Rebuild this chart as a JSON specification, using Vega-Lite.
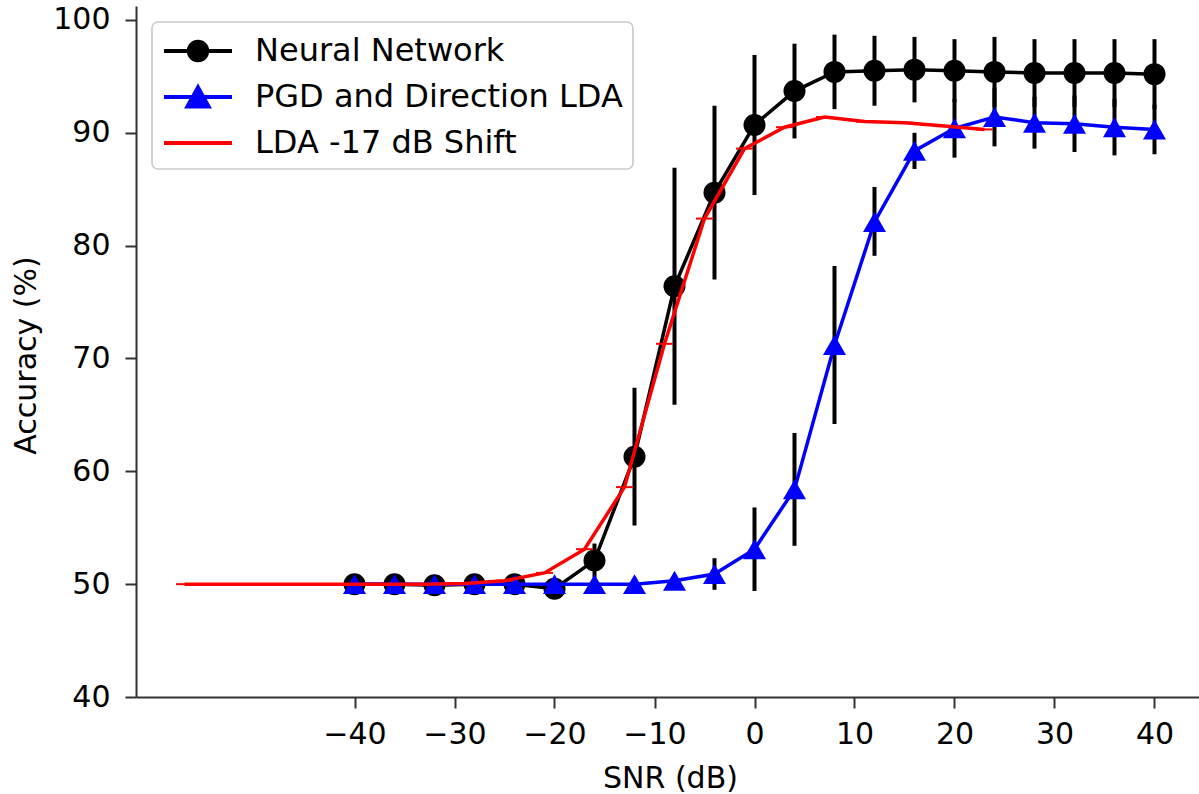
{
  "$schema": "https://vega.github.io/schema/vega-lite/v6.json",
  "width": 1063,
  "height": 691,
  "padding": {"left": 136, "top": 6, "right": 0, "bottom": 97},
  "autosize": {"type": "none"},
  "background": "white",
  "config": {
    "view": {"stroke": null},
    "font": "DejaVu Sans",
    "axis": {
      "labelFont": "DejaVu Sans",
      "titleFont": "DejaVu Sans",
      "labelFontSize": 30,
      "titleFontSize": 30,
      "labelColor": "#000000",
      "titleColor": "#000000",
      "titleFontWeight": "normal",
      "domainColor": "#333333",
      "domainWidth": 2,
      "tickColor": "#333333",
      "tickWidth": 2,
      "tickSize": 11,
      "grid": false
    },
    "legend": {
      "strokeWidth": 1.7
    }
  },
  "datasets": {
    "nn": [
      {"series": "Neural Network", "snr": -40, "acc": 50.0, "low": 49.7, "high": 50.3},
      {"series": "Neural Network", "snr": -36, "acc": 50.0, "low": 49.7, "high": 50.3},
      {"series": "Neural Network", "snr": -32, "acc": 49.9, "low": 49.6, "high": 50.2},
      {"series": "Neural Network", "snr": -28, "acc": 50.0, "low": 49.7, "high": 50.3},
      {"series": "Neural Network", "snr": -24, "acc": 50.0, "low": 49.7, "high": 50.3},
      {"series": "Neural Network", "snr": -20, "acc": 49.6, "low": 49.0, "high": 50.2},
      {"series": "Neural Network", "snr": -16, "acc": 52.1, "low": 50.6, "high": 53.6},
      {"series": "Neural Network", "snr": -12, "acc": 61.3, "low": 55.2, "high": 67.4},
      {"series": "Neural Network", "snr": -8, "acc": 76.4, "low": 65.9, "high": 86.9},
      {"series": "Neural Network", "snr": -4, "acc": 84.7, "low": 77.0, "high": 92.4},
      {"series": "Neural Network", "snr": 0, "acc": 90.7, "low": 84.5, "high": 96.9},
      {"series": "Neural Network", "snr": 4, "acc": 93.7, "low": 89.5, "high": 97.9},
      {"series": "Neural Network", "snr": 8, "acc": 95.4, "low": 92.1, "high": 98.7},
      {"series": "Neural Network", "snr": 12, "acc": 95.5, "low": 92.4, "high": 98.6},
      {"series": "Neural Network", "snr": 16, "acc": 95.6, "low": 92.7, "high": 98.5},
      {"series": "Neural Network", "snr": 20, "acc": 95.5, "low": 92.7, "high": 98.3},
      {"series": "Neural Network", "snr": 24, "acc": 95.4, "low": 92.3, "high": 98.5},
      {"series": "Neural Network", "snr": 28, "acc": 95.3, "low": 92.3, "high": 98.3},
      {"series": "Neural Network", "snr": 32, "acc": 95.3, "low": 92.3, "high": 98.3},
      {"series": "Neural Network", "snr": 36, "acc": 95.3, "low": 92.3, "high": 98.3},
      {"series": "Neural Network", "snr": 40, "acc": 95.2, "low": 92.1, "high": 98.3}
    ],
    "pgd": [
      {"series": "PGD and Direction LDA", "snr": -40, "acc": 50.0, "low": 49.9, "high": 50.1},
      {"series": "PGD and Direction LDA", "snr": -36, "acc": 50.0, "low": 49.9, "high": 50.1},
      {"series": "PGD and Direction LDA", "snr": -32, "acc": 50.0, "low": 49.9, "high": 50.1},
      {"series": "PGD and Direction LDA", "snr": -28, "acc": 50.0, "low": 49.9, "high": 50.1},
      {"series": "PGD and Direction LDA", "snr": -24, "acc": 50.0, "low": 49.9, "high": 50.1},
      {"series": "PGD and Direction LDA", "snr": -20, "acc": 50.0, "low": 49.9, "high": 50.1},
      {"series": "PGD and Direction LDA", "snr": -16, "acc": 50.0, "low": 49.9, "high": 50.1},
      {"series": "PGD and Direction LDA", "snr": -12, "acc": 50.0, "low": 49.9, "high": 50.1},
      {"series": "PGD and Direction LDA", "snr": -8, "acc": 50.3, "low": 49.9, "high": 50.7},
      {"series": "PGD and Direction LDA", "snr": -4, "acc": 50.9, "low": 49.5, "high": 52.3},
      {"series": "PGD and Direction LDA", "snr": 0, "acc": 53.1, "low": 49.4, "high": 56.8},
      {"series": "PGD and Direction LDA", "snr": 4, "acc": 58.4, "low": 53.4, "high": 63.4},
      {"series": "PGD and Direction LDA", "snr": 8, "acc": 71.2, "low": 64.2, "high": 78.2},
      {"series": "PGD and Direction LDA", "snr": 12, "acc": 82.1, "low": 79.1, "high": 85.2},
      {"series": "PGD and Direction LDA", "snr": 16, "acc": 88.4, "low": 86.8, "high": 90.0},
      {"series": "PGD and Direction LDA", "snr": 20, "acc": 90.4, "low": 87.8, "high": 93.0},
      {"series": "PGD and Direction LDA", "snr": 24, "acc": 91.4, "low": 88.8, "high": 94.0},
      {"series": "PGD and Direction LDA", "snr": 28, "acc": 90.9, "low": 88.6, "high": 93.2},
      {"series": "PGD and Direction LDA", "snr": 32, "acc": 90.8, "low": 88.3, "high": 93.3},
      {"series": "PGD and Direction LDA", "snr": 36, "acc": 90.5, "low": 88.0, "high": 93.0},
      {"series": "PGD and Direction LDA", "snr": 40, "acc": 90.3, "low": 88.1, "high": 92.5}
    ],
    "lda": [
      {"series": "LDA -17 dB Shift", "snr": -57, "acc": 50.0},
      {"series": "LDA -17 dB Shift", "snr": -53, "acc": 50.0},
      {"series": "LDA -17 dB Shift", "snr": -49, "acc": 50.0},
      {"series": "LDA -17 dB Shift", "snr": -45, "acc": 50.0},
      {"series": "LDA -17 dB Shift", "snr": -41, "acc": 50.0},
      {"series": "LDA -17 dB Shift", "snr": -37, "acc": 50.0},
      {"series": "LDA -17 dB Shift", "snr": -33, "acc": 50.0},
      {"series": "LDA -17 dB Shift", "snr": -29, "acc": 50.05},
      {"series": "LDA -17 dB Shift", "snr": -25, "acc": 50.3},
      {"series": "LDA -17 dB Shift", "snr": -21, "acc": 51.0},
      {"series": "LDA -17 dB Shift", "snr": -17, "acc": 53.1},
      {"series": "LDA -17 dB Shift", "snr": -13, "acc": 58.6},
      {"series": "LDA -17 dB Shift", "snr": -9, "acc": 71.3},
      {"series": "LDA -17 dB Shift", "snr": -5, "acc": 82.4},
      {"series": "LDA -17 dB Shift", "snr": -1, "acc": 88.6},
      {"series": "LDA -17 dB Shift", "snr": 3, "acc": 90.5},
      {"series": "LDA -17 dB Shift", "snr": 7, "acc": 91.4},
      {"series": "LDA -17 dB Shift", "snr": 11, "acc": 91.0},
      {"series": "LDA -17 dB Shift", "snr": 15, "acc": 90.9},
      {"series": "LDA -17 dB Shift", "snr": 19, "acc": 90.6},
      {"series": "LDA -17 dB Shift", "snr": 23, "acc": 90.3}
    ]
  },
  "encoding": {
    "x": {
      "field": "snr",
      "type": "quantitative",
      "scale": {"domain": [-61.85, 44.45], "nice": false, "zero": false},
      "axis": {
        "title": "SNR (dB)",
        "values": [-40, -30, -20, -10, 0, 10, 20, 30, 40],
        "labelPadding": 11,
        "titleX": 534,
        "titleY": 90,
        "titleAlign": "center",
        "titleBaseline": "alphabetic"
      }
    },
    "y": {
      "field": "acc",
      "type": "quantitative",
      "scale": {"domain": [40, 101.24], "nice": false, "zero": false},
      "axis": {
        "title": "Accuracy (%)",
        "values": [40, 50, 60, 70, 80, 90, 100],
        "labelPadding": 15,
        "titleX": -101,
        "titleY": 349,
        "titleAlign": "center",
        "titleBaseline": "alphabetic",
        "titleAngle": 270
      }
    }
  },
  "layer": [
    {
      "data": {"name": "nn"},
      "mark": {"type": "rule", "color": "#000000", "strokeWidth": 4},
      "encoding": {"y": {"field": "low", "type": "quantitative"}, "y2": {"field": "high"}}
    },
    {
      "data": {"name": "pgd"},
      "mark": {"type": "rule", "color": "#000000", "strokeWidth": 4},
      "encoding": {"y": {"field": "low", "type": "quantitative"}, "y2": {"field": "high"}}
    },
    {
      "data": {"name": "nn"},
      "mark": {"type": "line", "strokeWidth": 3.5},
      "encoding": {
        "color": {
          "field": "series",
          "type": "nominal",
          "scale": {
            "domain": ["Neural Network", "PGD and Direction LDA", "LDA -17 dB Shift"],
            "range": ["#000000", "#0000ff", "#ff0000"]
          },
          "legend": {
            "title": null,
            "orient": "none",
            "legendX": 16,
            "legendY": 16,
            "padding": 10,
            "fillColor": "#ffffff",
            "strokeColor": "#cccccc",
            "cornerRadius": 6,
            "labelFont": "DejaVu Sans",
            "labelFontSize": 32,
            "labelColor": "#000000",
            "labelLimit": 0,
            "symbolSize": 1156,
            "symbolOffset": 17,
            "labelOffset": 38,
            "rowPadding": 9,
            "symbolStrokeWidth": 4,
            "encode": {
              "symbols": {
                "update": {
                  "shape": {"signal": "datum.value === 'Neural Network' ? 'M-2,0L2,0M-0.544,0A0.544,0.544,0,1,0,0.544,0A0.544,0.544,0,1,0,-0.544,0Z' : datum.value === 'PGD and Direction LDA' ? 'M-2,0L2,0M0,-0.56L0.62,0.56L-0.62,0.56Z' : 'M-2,0L2,0'"},
                  "fill": {"signal": "scale('color', datum.value)"},
                  "stroke": {"signal": "scale('color', datum.value)"},
                  "strokeWidth": {"value": 4},
                  "opacity": {"value": 1}
                }
              }
            }
          }
        }
      }
    },
    {
      "data": {"name": "nn"},
      "mark": {"type": "point", "filled": true, "shape": "circle", "size": 484, "opacity": 1},
      "encoding": {"color": {"field": "series", "type": "nominal"}}
    },
    {
      "data": {"name": "pgd"},
      "mark": {"type": "line", "strokeWidth": 3.5},
      "encoding": {"color": {"field": "series", "type": "nominal"}}
    },
    {
      "data": {"name": "pgd"},
      "mark": {"type": "point", "filled": true, "shape": "triangle-up", "size": 529, "opacity": 1},
      "encoding": {"color": {"field": "series", "type": "nominal"}}
    },
    {
      "data": {"name": "lda"},
      "mark": {"type": "line", "strokeWidth": 3.5},
      "encoding": {"color": {"field": "series", "type": "nominal"}}
    },
    {
      "data": {"name": "lda"},
      "mark": {"type": "tick", "orient": "horizontal", "size": 17, "thickness": 2, "opacity": 1},
      "encoding": {"color": {"field": "series", "type": "nominal"}}
    },
    {
      "data": {"values": [{"top": 101.24}]},
      "mark": {"type": "rule", "color": "#333333", "strokeWidth": 2},
      "encoding": {"y": {"field": "top", "type": "quantitative"}}
    }
  ]
}
